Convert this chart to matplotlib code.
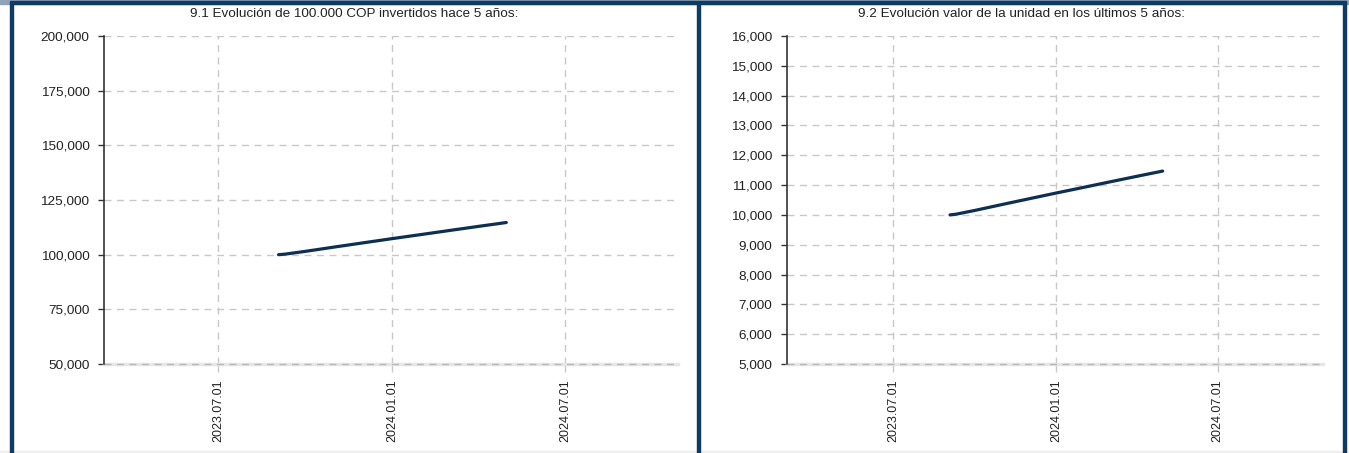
import matplotlib
matplotlib.use("Agg")
import matplotlib.pyplot as plt
from matplotlib.patches import Rectangle
from matplotlib.ticker import FuncFormatter, MultipleLocator
import numpy as np

plt.rcParams['font.family'] = ['Liberation Sans', 'DejaVu Sans']

title_left = "9.1 Evolución de 100.000 COP invertidos hace 5 años:"
title_right = "9.2 Evolución valor de la unidad en los últimos 5 años:"

dates = ["2023-09-03", "2023-09-10", "2023-10-01", "2023-11-01", "2023-12-01",
         "2024-01-01", "2024-02-01", "2024-03-01", "2024-04-01", "2024-04-30"]
inversion = [100000, 100250, 101500, 103500, 105400,
             107350, 109250, 111050, 112950, 114700]
unidad = [10000, 10025, 10150, 10350, 10540,
          10735, 10925, 11105, 11295, 11470]

xticks = ["2023-07-01", "2024-01-01", "2024-07-01"]
xlim = ["2023-03-03", "2024-10-28"]

dt = np.array(dates, dtype="datetime64[D]")
xt = np.array(xticks, dtype="datetime64[D]")
xl = np.array(xlim, dtype="datetime64[D]")

W, H = 1349, 453
fig = plt.figure(figsize=(W / 100, H / 100), dpi=100)

navy = "#0f3a62"
line_c = "#0c2f52"
grid_c = "#c8c8c8"

def fx(px):
    return px / W

def fy(py):
    return 1 - py / H

# borders
fig.patches.append(Rectangle((0, fy(4)), 1, 4 / H, transform=fig.transFigure,
                             color="#8fa3b8", zorder=0))
fig.patches.append(Rectangle((fx(10), fy(4)), fx(1336), 2.5 / H, transform=fig.transFigure,
                             color=navy, zorder=1))
for x0 in (10, 697, 1343):
    fig.patches.append(Rectangle((fx(x0), 0), fx(3), fy(3), transform=fig.transFigure,
                                 color=navy, zorder=1))
fig.patches.append(Rectangle((0, 0), 1, 2 / H, transform=fig.transFigure,
                             color="#eeeeee", zorder=0))

def make_ax(left_px, right_px, values, ylo, yhi, ystep):
    ax = fig.add_axes([fx(left_px), fy(364), fx(right_px - left_px), 328 / H])
    ax.plot(dt, values, color=line_c, lw=2.3, solid_capstyle="round", zorder=4)
    ax.set_xlim(xl[0], xl[1])
    ax.set_ylim(ylo, yhi)
    ax.yaxis.set_major_locator(MultipleLocator(ystep))
    ax.yaxis.set_major_formatter(FuncFormatter(lambda v, p: f"{int(round(v)):,}"))
    ax.set_xticks(xt)
    ax.set_xticklabels([str(d).replace("-", ".") for d in xt], rotation=90)
    ax.grid(True, color=grid_c, linestyle=(0, (5, 4)), lw=1)
    for s in ("top", "right"):
        ax.spines[s].set_visible(False)
    ax.spines["bottom"].set_color("#e6e6e6")
    ax.spines["bottom"].set_linewidth(2.5)
    ax.axhline(ylo, color="#b8b8b8", linestyle=(0, (5, 4)), lw=1, zorder=3, clip_on=False)
    ax.spines["left"].set_color("#333333")
    ax.spines["left"].set_linewidth(1.2)
    ax.spines["left"].set_zorder(3.5)
    ax.tick_params(axis="y", length=4.5, width=1, color="#333333", pad=6,
                   labelsize=9.7, labelcolor="#222222")
    ax.tick_params(axis="x", length=6, width=1, color=grid_c, pad=5,
                   labelsize=9, labelcolor="#222222")
    ax.set_axisbelow(True)
    return ax

make_ax(104, 678, inversion, 50000, 200000, 25000)
make_ax(787, 1323, unidad, 5000, 16000, 1000)

fig.text(fx(354), fy(14), title_left, ha="center", va="center", fontsize=9.7, color="#222222")
fig.text(fx(1022), fy(14), title_right, ha="center", va="center", fontsize=9.7, color="#222222")

fig.savefig("out.png", dpi=100)
